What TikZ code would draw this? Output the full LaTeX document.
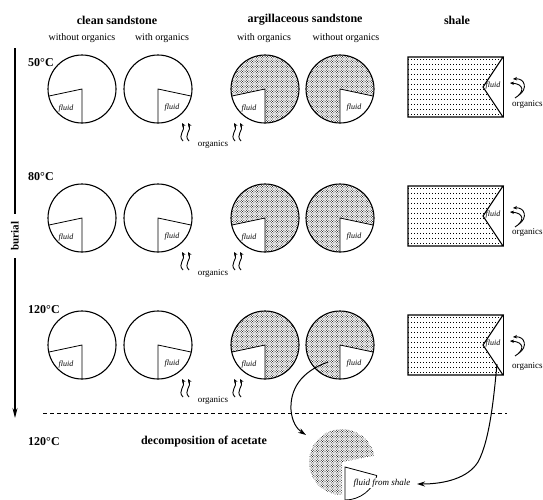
\documentclass[tikz,border=0pt]{standalone}
\usepackage{fontspec}
\setmainfont{Liberation Serif}
\usetikzlibrary{patterns,arrows.meta,calc}
\pgfdeclarepatternformonly{mystip}{\pgfqpoint{-1pt}{-1pt}}{\pgfqpoint{3.5pt}{3.5pt}}{\pgfqpoint{2.5pt}{2.5pt}}{%
  \pgfpathcircle{\pgfqpoint{0pt}{0pt}}{.5pt}%
  \pgfpathcircle{\pgfqpoint{1.25pt}{1.25pt}}{.5pt}%
  \pgfusepath{fill}}
\tikzset{
  upsq/.pic={\foreach \dx in {0,6}{\draw[sqa] (\dx+2,18) .. controls (\dx-4,12) and (\dx+5,7) .. (\dx+1,0);}},
  shsq/.pic={\draw[sqa] (5,19) .. controls (15,13) and (14,5) .. (0,4);
             \draw[sqa] (9,16) .. controls (18,10) and (15,-1) .. (3,0);},
  sqa/.style={line width=0.9pt,-{Stealth[length=4pt,width=3.5pt]}},
}
\newcommand\sandpie[7]{% name, x, y, wedge start angle, fill style, label dx, label dy
  \node[pie,#5] (#1) at (#2,#3) {};
  \fill[white] (#1.center) -- ($(#1.center)+(#4:34)$) arc[start angle=#4,delta angle=78,radius=34] -- cycle;
  \draw[rim] (#1.center) circle[radius=34];
  \draw[wl] ($(#1.center)+(#4:34)$) -- (#1.center) -- ($(#1.center)+(#4+78:34)$);
  \node[fl] (#1f) at ($(#1.center)+(#6,#7)$) {fluid};
}
\begin{document}
\begin{tikzpicture}[x=1pt,y=-1pt,
  hdr/.style={font=\fontsize{12}{14}\selectfont\bfseries,inner sep=0pt},
  sub/.style={font=\fontsize{10}{12}\selectfont,inner sep=0pt},
  temp/.style={font=\fontsize{12}{14}\selectfont\bfseries,inner sep=0pt,anchor=west},
  fl/.style={font=\fontsize{8}{9}\selectfont\itshape,inner sep=0pt},
  org/.style={font=\fontsize{9}{10}\selectfont,inner sep=0pt},
  pie/.style={circle,minimum size=68pt,inner sep=0pt},
  stip/.style={pattern=mystip},
  rim/.style={line width=1.1pt},
  wl/.style={line width=0.8pt},
  bigarrow/.style={line width=1pt,-{Stealth[length=8pt,width=5pt]}},
]
\useasboundingbox (0,0) rectangle (543,499);
\clip (0,0) rectangle (543,499);

% headers
\node[hdr] (h1) at (117,20) {clean sandstone};
\node[sub] (h1a) at (82,38) {without organics};
\node[sub] (h1b) at (162,38) {with organics};
\node[hdr] (h2) at (305,20) {argillaceous sandstone};
\node[sub] (h2a) at (264,38) {with organics};
\node[sub] (h2b) at (346,38) {without organics};
\node[hdr] (h3) at (457,20) {shale};

% temperatures
\node[temp] (t1) at (28,63) {50°C};
\node[temp] (t2) at (28,177) {80°C};
\node[temp] (t3) at (28,310) {120°C};
\node[temp] (t4) at (28,442) {120°C};
\node[hdr] (dec) at (204,442) {decomposition of acetate};

% burial axis
\coordinate (bt) at (15,48);
\coordinate (bb) at (15,418);
\draw[line width=1.3pt,-{Stealth[length=10pt,width=5pt]}] (bt) -- (bb);
\node[font=\fontsize{11}{12}\selectfont\bfseries,rotate=90,fill=white,inner xsep=8pt,inner ysep=1pt] (burial) at (15,236) {burial};

% pies
\foreach \r/\y in {1/89,2/218,3/345}{
  \sandpie{p\r a}{82}{\y}{90}{}{-16}{20}
  \sandpie{p\r b}{158}{\y}{12}{}{14}{19}
  \sandpie{p\r c}{265}{\y}{90}{stip}{-16}{20}
  \sandpie{p\r d}{340}{\y}{12}{stip}{14}{19}
  \pic at (181,\y+34) {upsq};
  \pic at (233,\y+34) {upsq};
  \node[org] (o\r) at (213,\y+55) {organics};
}

% shale
\foreach \r/\c/\ty in {1/87/104,2/216/232,3/345/366}{
  \begin{scope}
    \clip (408,\c-30) -- (503,\c-30) -- (483,\c) -- (503,\c+30) -- (408,\c+30) -- cycle;
    \foreach \k in {0,...,11}
      \draw[line width=1.4pt,dash pattern=on 1.2pt off 1.8pt] (408,\c-27.5+\k*5) -- (503,\c-27.5+\k*5);
  \end{scope}
  \draw[line width=1.1pt] (408,\c-30) -- (503,\c-30) -- (483,\c) -- (503,\c+30) -- (408,\c+30) -- cycle;
  \draw[line width=0.5pt] (503,\c-30) -- (503,\c+30);
  \node[fl] (sf\r) at (493,\c-1) {fluid};
  \pic at (510,\c-8) {shsq};
  \node[org,anchor=west] (so\r) at (512,\ty) {organics};
}

% dashed line
\coordinate (dl1) at (43,413);
\coordinate (dl2) at (507,413);
\draw[line width=0.8pt,dash pattern=on 4pt off 3pt] (dl1) -- (dl2);

% bottom pie
\node[circle,minimum size=66pt,inner sep=0pt] (bp) at (342,462) {};
\fill[stip] (bp.center) -- ($(bp.center)+(90:33)$) arc[start angle=90,end angle=349,radius=33] -- cycle;
\coordinate (fw) at (345,467);
\draw[wl] ($(fw)+(15:33)$) -- (fw) -- ($(fw)+(90:33)$) arc[start angle=90,end angle=15,radius=33];
\node[font=\fontsize{9}{10}\selectfont\itshape,inner sep=0.6pt,fill=white] (ffs) at (382,483) {fluid from shale};

% curved arrows
\coordinate (a1) at (328,362);
\coordinate (e1) at (306,435);
\draw[bigarrow] (a1) .. controls (300,372) and (290,390) .. (291,410) .. controls (292,422) and (297,429) .. (e1);
\coordinate (a2) at (497,364);
\coordinate (e2) at (417,484);
\draw[bigarrow] (a2) .. controls (494,395) and (490,440) .. (478,462) .. controls (468,478) and (445,484) .. (e2);
\end{tikzpicture}
\end{document}
